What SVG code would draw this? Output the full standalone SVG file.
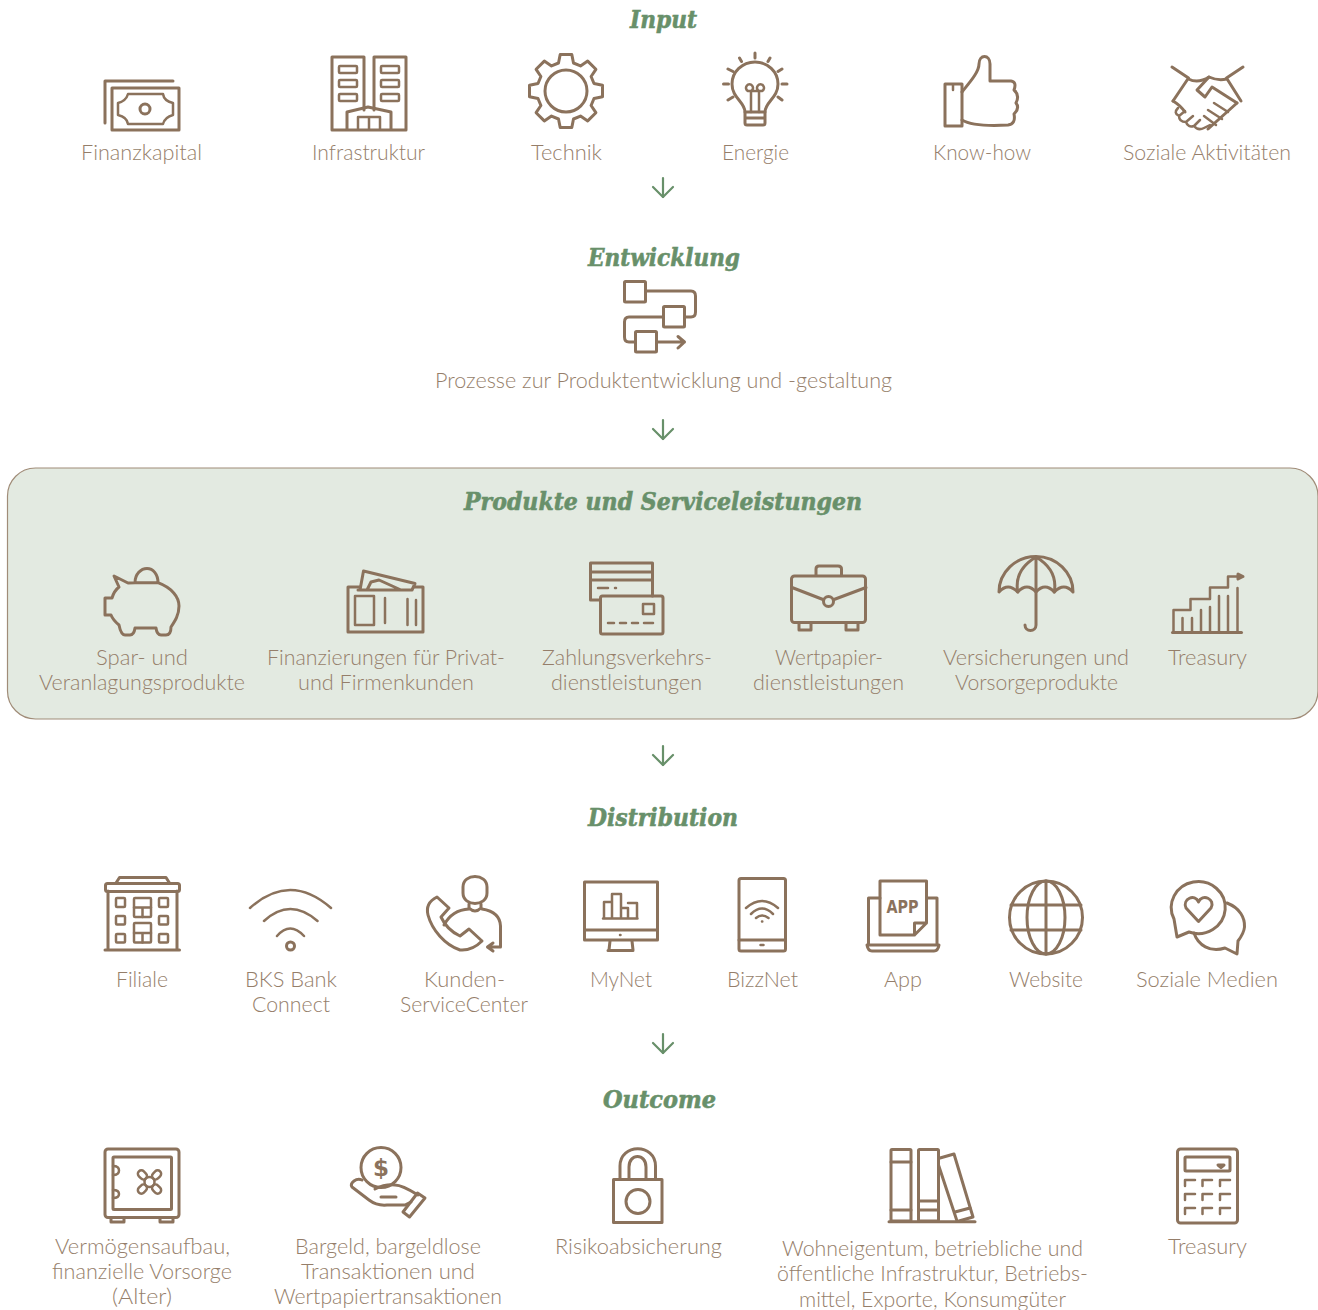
<svg xmlns="http://www.w3.org/2000/svg" width="1318" height="1310" viewBox="0 0 1318 1310">
<style>
.i{fill:none;stroke:#8b725c;stroke-width:3;stroke-linecap:round;stroke-linejoin:round}
.i .n{stroke-width:2.5}
.t{font-family:"Lato","Liberation Sans",sans-serif;font-weight:300;font-size:21px;fill:#957e6a;text-anchor:middle}
.h{font-family:"DejaVu Serif","Liberation Serif",serif;font-weight:700;font-style:italic;font-size:24px;fill:#68906a;stroke:#68906a;stroke-width:.6;text-anchor:middle}
.c{fill:none;stroke:#68906a;stroke-width:2.2;stroke-linecap:round}
</style>
<defs>
<marker id="ah" markerUnits="userSpaceOnUse" markerWidth="16" markerHeight="26" refX="13" refY="13" orient="auto" viewBox="0 0 16 26"><path d="M3 3L13 13L3 23" fill="none" stroke="#68906a" stroke-width="2.2" stroke-linecap="round" stroke-linejoin="round"/></marker>
</defs>
<rect width="1318" height="1310" fill="#fff"/>
<rect id="band" x="7.500" y="468" width="1310.500" height="251" rx="28" fill="#e3eae1" stroke="#a08c78" stroke-width="1.2"/>
<g id="connectors">
<line class="c" x1="663" y1="178" x2="663" y2="197" marker-end="url(#ah)"/>
<line class="c" x1="663" y1="420" x2="663" y2="439" marker-end="url(#ah)"/>
<line class="c" x1="663" y1="746" x2="663" y2="765" marker-end="url(#ah)"/>
<line class="c" x1="663" y1="1034" x2="663" y2="1053" marker-end="url(#ah)"/>
</g>
<g id="headings">
<text class="h" x="663.500" y="28" textLength="67" lengthAdjust="spacingAndGlyphs">Input</text>
<text class="h" x="664" y="266" textLength="152" lengthAdjust="spacingAndGlyphs">Entwicklung</text>
<text class="h" x="663" y="510" textLength="398" lengthAdjust="spacingAndGlyphs">Produkte und Serviceleistungen</text>
<text class="h" x="663" y="826" textLength="150" lengthAdjust="spacingAndGlyphs">Distribution</text>
<text class="h" x="659.500" y="1108" textLength="113" lengthAdjust="spacingAndGlyphs">Outcome</text>
</g>

<g id="finanzkapital"><g class="i"><path d="M105 123V81H173"/><rect x="112" y="88" width="67" height="42"/><path class="n" d="M128 94H163Q164 101 173 103V115Q165 117 163 124H128Q127 117 118 115V103Q126 101 128 94Z"/><circle cx="145" cy="109" r="5"/></g><text class="t" x="141.500" y="160" textLength="121" lengthAdjust="spacingAndGlyphs">Finanzkapital</text></g>

<g id="infrastruktur"><g class="i"><path d="M364 110V57H332V130H406V57H374V110"/><g class="n"><rect x="339" y="66" width="18" height="7" rx="1"/><rect x="339" y="80" width="18" height="7" rx="1"/><rect x="339" y="94" width="18" height="7" rx="1"/><rect x="381" y="66" width="18" height="7" rx="1"/><rect x="381" y="80" width="18" height="7" rx="1"/><rect x="381" y="94" width="18" height="7" rx="1"/></g><path d="M347 129V112L368 107L391 112V129"/><path class="n" d="M358 129V117H380V129M369 117V129"/></g><text class="t" x="368.500" y="160" textLength="113" lengthAdjust="spacingAndGlyphs">Infrastruktur</text></g>

<g id="technik"><g class="i" transform="translate(566 91)"><path d="M-7.500 -28L-5.800 -36.500L5.800 -36.500L7.500 -28L14.500 -25.100L21.700 -29.900L29.900 -21.700L25.100 -14.500L28 -7.500L36.500 -5.800L36.500 5.800L28 7.500L25.100 14.500L29.900 21.700L21.700 29.900L14.500 25.100L7.500 28L5.800 36.500L-5.800 36.500L-7.500 28L-14.500 25.100L-21.700 29.900L-29.900 21.700L-25.100 14.500L-28 7.500L-36.500 5.800L-36.500 -5.800L-28 -7.500L-25.100 -14.500L-29.900 -21.700L-21.700 -29.900L-14.500 -25.100Z"/><circle r="21"/></g><text class="t" x="566.500" y="160" textLength="71" lengthAdjust="spacingAndGlyphs">Technik</text></g>

<g id="energie"><g class="i"><path d="M745 112C745 102 732 98 732 84A23 22 0 0 1 778 84C778 98 765 102 765 112Z"/><path d="M745 112V123Q745 125 747 125H763Q765 125 765 123V112M745 118H765"/><path class="n" d="M751 112V91A3.500 3.500 0 1 0 748 91H762A3.500 3.500 0 1 0 759 91V112"/><path d="M755 53V58M739.500 58L741.500 61.500M770 58L768 61.500M728 69L733 71.500M782 69L778 71.500M723.500 84H728.500M782 84H787M728 100L733 97M782 100L778 97"/></g><text class="t" x="755.500" y="160" textLength="67" lengthAdjust="spacingAndGlyphs">Energie</text></g>

<g id="knowhow"><g class="i"><rect x="945" y="84" width="17" height="42"/><path d="M962 92C970 82 979 72 979 64C979 54 990 54 990 64V81H1011Q1017 82 1014 90Q1020 95 1016 103Q1020 108 1014 114Q1016 124 1008 125C990 126 972 126 962 120"/><path class="n" d="M953 85V90"/></g><text class="t" x="982" y="160" textLength="98" lengthAdjust="spacingAndGlyphs">Know-how</text></g>

<g id="soziale"><g class="i"><path d="M1172 67L1188.500 78L1173 101M1243 67L1226.500 78L1241 101"/><path d="M1188.500 79Q1198 84 1209 77Q1218 81 1226.500 79"/><path d="M1209 77L1197 90L1205 97L1212 87L1237 103"/><path d="M1237 103L1208 129M1173 101Q1180 105 1185 112"/><path class="n" d="M1178 108Q1173 113 1179 116Q1179 122 1186 122Q1188 128 1194 126Q1198 131 1204 128L1210 125M1228 112L1214 103M1222 119L1208 110M1216 125L1204 116M1185 111L1179 116M1193 116L1186 122M1200 120L1194 126"/></g><text class="t" x="1207" y="160" textLength="168" lengthAdjust="spacingAndGlyphs">Soziale Aktivitäten</text></g>

<g id="entwicklung"><g class="i"><rect x="624.500" y="281.500" width="21" height="20.500" rx="1"/><rect x="663.500" y="306.500" width="21" height="20.500" rx="1"/><rect x="635.500" y="331.500" width="21" height="20.500" rx="1"/><path d="M646 291H691Q695.500 291 695.500 296V312Q695.500 317 691 317H685M663 317H629Q624.500 317 624.500 322V337Q624.500 342 629 342H635M657 342H684.500M678 336.500L684.500 342L678 348"/></g><text class="t" x="663.500" y="388" textLength="457" lengthAdjust="spacingAndGlyphs">Prozesse zur Produktentwicklung und -gestaltung</text></g>

<g id="spar"><g class="i"><path d="M135 582.700H158M135 582.700C135 574 141 568.500 147 568.500C153 568.500 158 574 158 582.700C172 588 179 597 179 606C179 615 175 621 171 627Q171 635 166 635H161Q157 635 156 628H135Q134 635 130 635H125Q121 635 119 625Q113 620 111 615H105V598H112Q114 591 119 587L114 576L128 583L135 582.700"/></g><text class="t" x="142" y="665" textLength="92" lengthAdjust="spacingAndGlyphs">Spar- und</text><text class="t" x="142" y="690" textLength="206" lengthAdjust="spacingAndGlyphs">Veranlagungsprodukte</text></g>

<g id="finanzierungen"><g class="i"><path d="M360 587H348V632H423V587H414"/><path d="M360 590L363.500 571L415 583.500L412 590M358 590H412M367 590L371 582L379 580L401 590"/><rect class="n" x="355" y="596" width="19" height="29"/><path class="n" d="M385 598V623M407.500 599V625M416 600V625"/></g><text class="t" x="386" y="665" textLength="238" lengthAdjust="spacingAndGlyphs">Finanzierungen für Privat-</text><text class="t" x="386" y="690" textLength="176" lengthAdjust="spacingAndGlyphs">und Firmenkunden</text></g>

<g id="zahlung"><g class="i"><path d="M652.500 596V563H590.500V600H600M590.500 572H652.500M590.500 580H652.500"/><rect x="600.500" y="596" width="62.500" height="38" rx="2"/><rect class="n" x="643" y="604" width="11" height="10"/><path class="n" d="M598 588H608M615 588H616M608 623H614M620 623H626M632 623H638M644 623H653"/></g><text class="t" x="627" y="665" textLength="170" lengthAdjust="spacingAndGlyphs">Zahlungsverkehrs-</text><text class="t" x="626.500" y="690" textLength="151" lengthAdjust="spacingAndGlyphs">dienstleistungen</text></g>

<g id="wertpapier"><g class="i"><rect x="791.500" y="576" width="74" height="46.500" rx="3"/><path d="M816 575V569Q816 566 819 566H838Q841.500 566 841.500 569V575"/><path d="M792 587.500L823 599.500M866 587.500L834 599.500"/><circle cx="828.500" cy="601.500" r="5"/><path d="M799 623V630H811V623M846 623V630H858V623"/></g><text class="t" x="829" y="665" textLength="108" lengthAdjust="spacingAndGlyphs">Wertpapier-</text><text class="t" x="828.500" y="690" textLength="151" lengthAdjust="spacingAndGlyphs">dienstleistungen</text></g>

<g id="versicherungen"><g class="i"><path d="M999 592A37 35.500 0 0 1 1073 592Q1064 582 1054.300 592Q1045 582 1036 592Q1027 582 1017.700 592Q1008 582 999 592Z"/><path d="M1036 557Q1014 570 1017.700 592M1036 557Q1058 570 1054.300 592M1036 557V625A5.500 5.500 0 0 1 1025 625"/></g><text class="t" x="1036" y="665" textLength="186" lengthAdjust="spacingAndGlyphs">Versicherungen und</text><text class="t" x="1036.500" y="690" textLength="163" lengthAdjust="spacingAndGlyphs">Vorsorgeprodukte</text></g>

<g id="treasury1"><g class="i"><path d="M1172.500 632.500H1241.500"/><path class="n" d="M1173.500 632V610H1190.500V599H1210V587.500H1228V576.500H1240"/><path d="M1238 574L1243 576.500L1238 579Z" fill="#8b725c"/><path class="n" d="M1182.500 632V618M1192 632V618M1201 632V610M1210 632V607M1219 632V596M1228 632V596M1237.500 632V588"/></g><text class="t" x="1207.500" y="665" textLength="79" lengthAdjust="spacingAndGlyphs">Treasury</text></g>

<g id="filiale"><g class="i"><rect x="105.500" y="883.500" width="74" height="8" rx="2"/><path d="M116 883L119.500 877.500H166L169.500 883M108 891V949M177 891V949"/><path d="M105 950H179.500"/><g class="n"><rect x="116" y="898" width="9" height="9" rx="1"/><rect x="116" y="916" width="9" height="8.500" rx="1"/><rect x="116" y="934" width="9" height="8.500" rx="1"/><rect x="159" y="898" width="9" height="9" rx="1"/><rect x="159" y="916" width="9" height="8.500" rx="1"/><rect x="159" y="934" width="9" height="8.500" rx="1"/><rect x="134" y="898" width="17" height="19" rx="1"/><path d="M134 907.500H151M142.500 907.500V917"/><rect x="134" y="923" width="17" height="19.500" rx="1"/><path d="M134 933H151M142.500 933V942.500"/></g></g><text class="t" x="142" y="987" textLength="52" lengthAdjust="spacingAndGlyphs">Filiale</text></g>

<g id="bksconnect"><g class="i n"><path stroke-width="2.500" d="M250 908Q290 872 331 908M264 921Q290 897 317.500 921M277 936Q290 921 304 936"/><circle cx="290.500" cy="946" r="4"/></g><text class="t" x="291" y="987" textLength="92" lengthAdjust="spacingAndGlyphs">BKS Bank</text><text class="t" x="291" y="1012" textLength="78" lengthAdjust="spacingAndGlyphs">Connect</text></g>

<g id="kunden"><g class="i"><path d="M463 887C463 873 487 873 487 887V893C487 907 463 907 463 893Z"/><path d="M469 904V908Q475 914 481 908V904"/><path d="M482 909Q500 912 500.500 926V947H488M493 943L487.500 947L493 951"/><path d="M469 909Q452 910 444 925"/><path d="M437 897Q425 903 428 915C432 930 445 945 460 950Q472 951 482 941L469 929L460 936Q447 930 441 917L449 908Z"/></g><text class="t" x="464.500" y="987" textLength="81" lengthAdjust="spacingAndGlyphs">Kunden-</text><text class="t" x="464" y="1012" textLength="128" lengthAdjust="spacingAndGlyphs">ServiceCenter</text></g>

<g id="mynet"><g class="i"><rect x="584.500" y="882" width="73" height="58"/><path d="M584.500 930H657.500M610 941L609 950M632 941L633 950M608 950.500H633"/><path class="n" d="M603 918.500H637.500M604 918V902H612V918M612 902V894H621V918M621 908H628V918M628 903H637V918M620 935H620.500"/></g><text class="t" x="621" y="987" textLength="62" lengthAdjust="spacingAndGlyphs">MyNet</text></g>

<g id="bizznet"><g class="i"><rect x="739" y="878.500" width="46.500" height="72.500" rx="2"/><path d="M739 940H785"/><path class="n" d="M746 908Q762 894 778 908M751 914Q762 903 773 914M756 918Q762 913 768.500 918M760.500 945H763.500M762 921.500H762.300"/></g><text class="t" x="762.500" y="987" textLength="71" lengthAdjust="spacingAndGlyphs">BizzNet</text></g>

<g id="app"><g class="i"><path d="M880 898H868.500V944M926.500 898H937V944"/><path d="M867 945H939Q938 951 934 951H872Q868 951 867 945Z"/><path d="M914.500 935H880V881H926.500V923L914.500 935V923H926.500"/></g><text x="902.500" y="912.500" textLength="32" lengthAdjust="spacingAndGlyphs" font-family="DejaVu Sans,sans-serif" font-weight="700" font-size="17" fill="#8b725c" text-anchor="middle">APP</text><text class="t" x="903" y="987" textLength="38" lengthAdjust="spacingAndGlyphs">App</text></g>

<g id="website"><g class="i"><circle cx="1046" cy="917.500" r="36.500"/><ellipse cx="1046" cy="917.500" rx="19" ry="36.500"/><path d="M1046 881V954M1011 905H1081M1011 930H1081"/></g><text class="t" x="1046" y="987" textLength="74" lengthAdjust="spacingAndGlyphs">Website</text></g>

<g id="sozialemedien"><g class="i"><path d="M1177 937L1174 919A27 26 0 1 1 1189 932Z"/><path d="M1227 903C1240 908 1245 918 1244.500 927C1244 933 1241 937 1238 941L1237 954L1225 948C1210 953 1198 945 1194 933"/><path d="M1198.500 921.500L1186 908C1182 899 1195 893 1198.500 902C1202 893 1216 899 1211 908Z"/></g><text class="t" x="1207" y="987" textLength="142" lengthAdjust="spacingAndGlyphs">Soziale Medien</text></g>

<g id="vermoegen"><g class="i"><rect x="105" y="1149" width="74" height="68.500" rx="3"/><rect x="113" y="1157" width="58.500" height="52.500" rx="1"/><path class="n" d="M113 1166Q119 1166 119 1170.500Q119 1175 113 1175M113 1190Q119 1190 119 1194Q119 1198 113 1198"/><path d="M111 1218V1222H124V1218M160 1218V1222H173V1218"/><circle class="n" cx="149.500" cy="1182" r="5"/><g class="n" transform="translate(149.500 1182)"><rect x="5" y="-3.500" width="10" height="7" rx="3.500" transform="rotate(45)"/><rect x="5" y="-3.500" width="10" height="7" rx="3.500" transform="rotate(135)"/><rect x="5" y="-3.500" width="10" height="7" rx="3.500" transform="rotate(225)"/><rect x="5" y="-3.500" width="10" height="7" rx="3.500" transform="rotate(315)"/></g></g><text class="t" x="142.500" y="1254" textLength="175" lengthAdjust="spacingAndGlyphs">Vermögensaufbau,</text><text class="t" x="142" y="1279" textLength="180" lengthAdjust="spacingAndGlyphs">finanzielle Vorsorge</text><text class="t" x="142" y="1304" textLength="60" lengthAdjust="spacingAndGlyphs">(Alter)</text></g>

<g id="bargeld"><g class="i"><circle cx="381" cy="1167.500" r="20"/><path d="M362 1180Q358 1178 354 1181Q350 1184 352 1187L369 1200Q377 1206 387 1205H405L411 1202"/><path d="M375 1189Q385 1184 395 1185Q402 1185 418 1195M381 1197H396"/><path d="M417.500 1193L425 1198L409.500 1217L403 1212Z"/></g><text x="381" y="1175.500" font-family="DejaVu Sans,sans-serif" font-size="23" font-weight="700" fill="#8b725c" text-anchor="middle">$</text><text class="t" x="388" y="1254" textLength="186" lengthAdjust="spacingAndGlyphs">Bargeld, bargeldlose</text><text class="t" x="388" y="1279" textLength="174" lengthAdjust="spacingAndGlyphs">Transaktionen und</text><text class="t" x="388" y="1304" textLength="228" lengthAdjust="spacingAndGlyphs">Wertpapiertransaktionen</text></g>

<g id="risiko"><g class="i"><rect x="613.500" y="1179.500" width="48.500" height="43"/><path d="M620 1179V1166C620 1143 655.500 1143 655.500 1166V1179M629 1179V1167C629 1153 646 1153 646 1167V1179"/><circle cx="638" cy="1201.500" r="12"/></g><text class="t" x="638.500" y="1254" textLength="167" lengthAdjust="spacingAndGlyphs">Risikoabsicherung</text></g>

<g id="wohneigentum"><g class="i"><path d="M889 1221.700H975"/><rect x="891" y="1149.500" width="20" height="71.500" rx="1"/><path d="M891 1162H911M891 1210H911"/><rect x="918.500" y="1149.500" width="20" height="71.500" rx="1"/><path d="M918.500 1201H938.500M918.500 1210H938.500"/><path d="M940 1158L954 1154L973 1217L959 1221"/><path d="M955 1212L970 1208M938.500 1165L957 1221"/></g><text class="t" x="932.500" y="1256" textLength="301" lengthAdjust="spacingAndGlyphs">Wohneigentum, betriebliche und</text><text class="t" x="932.500" y="1281" textLength="311" lengthAdjust="spacingAndGlyphs">öffentliche Infrastruktur, Betriebs-</text><text class="t" x="932.500" y="1307" textLength="267" lengthAdjust="spacingAndGlyphs">mittel, Exporte, Konsumgüter</text></g>

<g id="treasury2"><g class="i"><rect x="1177.500" y="1149" width="60" height="74" rx="3"/><rect x="1185" y="1157" width="45" height="14" rx="1"/><path d="M1218 1165H1224L1221 1167.500Z" fill="#8b725c"/><g class="n"><path d="M1185 1186V1180H1195M1202.500 1186V1180H1212M1220 1186V1180H1230M1185 1200V1194H1195M1202.500 1200V1194H1212M1220 1200V1194H1230M1185 1214V1208H1195M1202.500 1214V1208H1212M1220 1214V1208H1230"/></g></g><text class="t" x="1207.500" y="1254" textLength="79" lengthAdjust="spacingAndGlyphs">Treasury</text></g>
</svg>
